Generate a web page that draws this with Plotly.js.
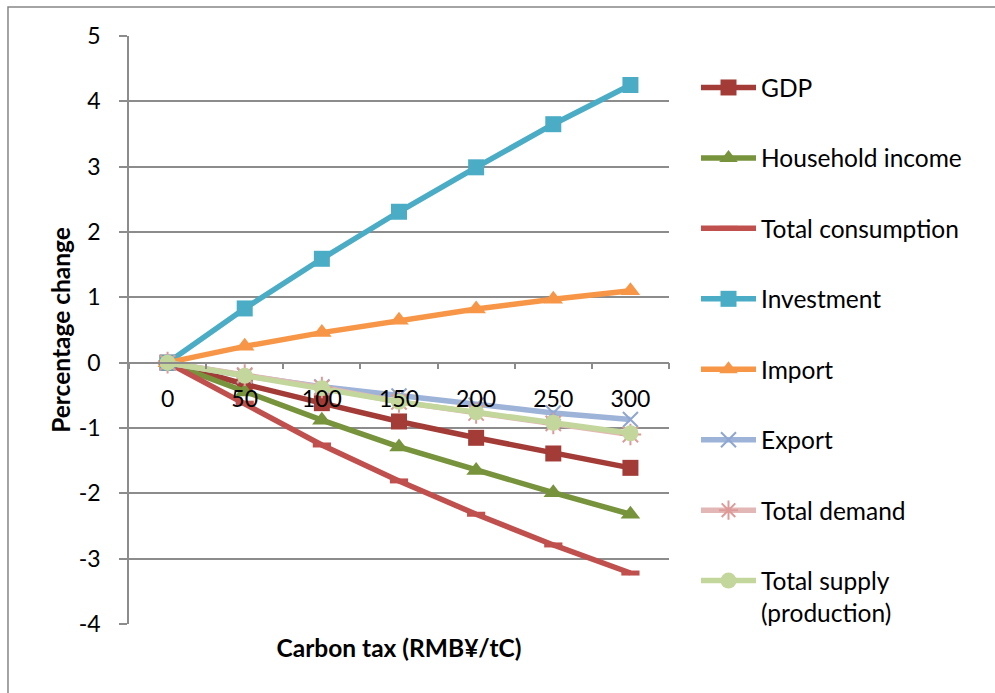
<!DOCTYPE html>
<html>
<head>
<meta charset="utf-8">
<script src="https://cdn.plot.ly/plotly-3.0.1.min.js"></script>
<style>
  html, body { margin: 0; padding: 0; background: #ffffff; }
  #chart { width: 995px; height: 693px; }
  #chart text { font-variant-ligatures: none; }
</style>
</head>
<body>
<div id="chart"></div>
<script>
// Carbon tax levels (RMB¥ per tonne of carbon)
const taxLevels = [0, 50, 100, 150, 200, 250, 300];

// Percentage change of each macro indicator relative to the baseline
const gdp               = [0, -0.33, -0.62, -0.90, -1.15, -1.39, -1.61];
const householdIncome   = [0, -0.45, -0.88, -1.29, -1.65, -1.99, -2.32];
const totalConsumption  = [0, -0.62, -1.26, -1.81, -2.32, -2.79, -3.22];
const investment        = [0, 0.83, 1.59, 2.31, 2.99, 3.65, 4.25];
const importChange      = [0, 0.25, 0.46, 0.65, 0.82, 0.97, 1.10];
const exportChange      = [0, -0.20, -0.37, -0.51, -0.65, -0.77, -0.87];
const totalDemand       = [0, -0.19, -0.38, -0.60, -0.77, -0.93, -1.10];
const totalSupply       = [0, -0.20, -0.39, -0.60, -0.76, -0.92, -1.08];

const yTicks = [-4, -3, -2, -1, 0, 1, 2, 3, 4, 5];

const FONT = 'Lato, "Liberation Sans", sans-serif';
const GRID = '#8c8c8c';

function series(name, values, color, symbol, size, markerColor, opts) {
  const markerLine = (opts && opts.markerLine) || { width: 0 };
  return {
    type: 'scatter',
    mode: 'lines+markers',
    name: name,
    legendgroup: name,
    x: taxLevels,
    y: values,
    line: { color: color, width: 5.5 },
    marker: {
      symbol: symbol,
      size: size,
      color: markerColor || color,
      line: markerLine
    },
    hoverinfo: 'x+y+name'
  };
}

const traces = [
  series('GDP', gdp, '#a33c37', 'square', 16),
  series('Household income', householdIncome, '#77933c', 'triangle-up', 17),
  series('Total consumption', totalConsumption, '#c0504d', 'line-ew', 13, '#c0504d',
         { markerLine: { color: '#c0504d', width: 5 } }),
  series('Investment', investment, '#4bacc6', 'square', 16),
  series('Import', importChange, '#f79646', 'triangle-up', 17),
  series('Export', exportChange, '#9db3d8', 'x-thin', 15, '#9db3d8',
         { markerLine: { color: '#8ea6d0', width: 2 } }),
  series('Total demand', totalDemand, '#e3b7b6', 'asterisk', 18, '#dc9a98',
         { markerLine: { color: '#dc9a98', width: 2 } }),
  series('Total supply<br>(production)', totalSupply, '#c3d69b', 'circle', 16)
];

const layout = {
  width: 995,
  height: 693,
  margin: { l: 129, r: 326, t: 36, b: 69 },
  paper_bgcolor: '#ffffff',
  plot_bgcolor: '#ffffff',
  font: { family: FONT, size: 23, color: '#000000' },
  showlegend: true,
  legend: {
    x: 1.05,
    xanchor: 'left',
    y: 0.9506,
    yanchor: 'top',
    traceorder: 'grouped',
    tracegroupgap: 35.6,
    itemwidth: 55,
    valign: 'top',
    font: { family: FONT, size: 24.5, color: '#000000' },
    bgcolor: 'rgba(0,0,0,0)'
  },
  // category axis drawn through y = 0, ticks between categories
  xaxis: {
    type: 'category',
    anchor: 'free',
    position: 4 / 9,
    range: [-0.5, 6.5],
    tickson: 'boundaries',
    ticks: 'outside',
    ticklen: 6,
    tickwidth: 1.5,
    tickcolor: GRID,
    showline: true,
    linecolor: GRID,
    linewidth: 1.5,
    showgrid: false,
    zeroline: false,
    ticklabelstandoff: 16,
    tickfont: { family: FONT, size: 23, color: '#000000' },
    title: {
      text: '<b>Carbon tax (RMB¥/tC)</b>',
      font: { family: FONT, size: 24.5, color: '#000000' },
      standoff: 228
    }
  },
  yaxis: {
    range: [-4, 5],
    tickvals: yTicks,
    ticktext: yTicks.map(String),
    ticks: 'outside',
    ticklen: 8,
    tickwidth: 1.5,
    tickcolor: GRID,
    showline: true,
    linecolor: GRID,
    linewidth: 1.5,
    showgrid: true,
    gridcolor: GRID,
    gridwidth: 1.5,
    zeroline: false,
    ticklabelstandoff: 14,
    tickfont: { family: FONT, size: 23, color: '#000000' },
    title: {
      text: '<b>Percentage change</b>',
      font: { family: FONT, size: 24.5, color: '#000000' },
      standoff: 1
    }
  },
  shapes: [
    {
      type: 'rect',
      xref: 'paper', yref: 'paper',
      x0: -0.2241, y0: 1.0493, x1: 3, y1: -1,
      line: { color: '#868686', width: 1.5 },
      fillcolor: 'rgba(0,0,0,0)',
      layer: 'below'
    }
  ]
};

Plotly.newPlot('chart', traces, layout, { displayModeBar: false, responsive: false });
</script>
</body>
</html>
